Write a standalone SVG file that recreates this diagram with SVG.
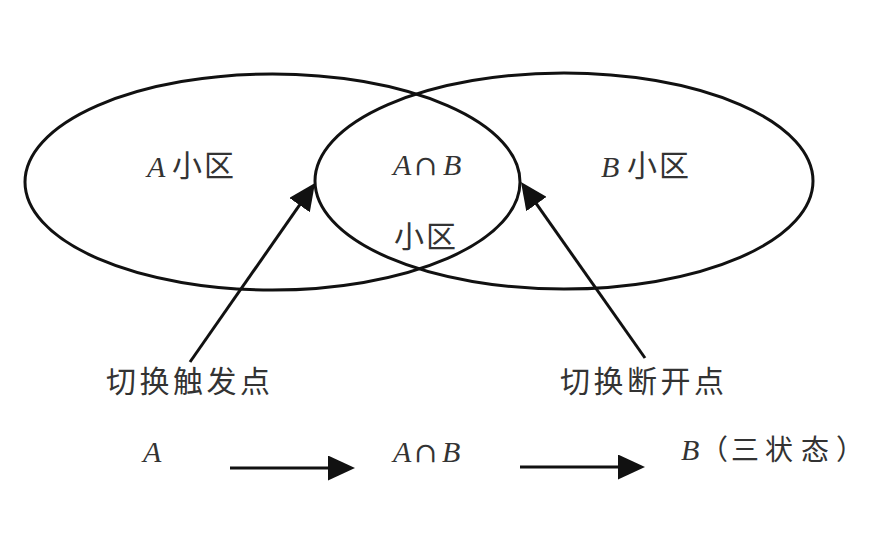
<svg xmlns="http://www.w3.org/2000/svg" width="878" height="548" viewBox="0 0 878 548">
<style>
.ring{fill:none;stroke:#111;stroke-width:3}
.conn{fill:none;stroke:#111;stroke-width:3}
.it{font-family:"Liberation Serif","DejaVu Serif",serif;font-style:italic;font-size:30px;fill:#333}
.up{font-family:"DejaVu Serif","Liberation Serif",serif;font-size:28px;fill:#333}
.cjk{font-family:"Noto Sans CJK SC","Noto Sans CJK TC",sans-serif;font-size:30px;fill:#333}
.cjks{font-family:"Noto Sans CJK SC","Noto Sans CJK TC",sans-serif;font-size:28px;fill:#333}
</style>
<defs>
<marker id="ah" markerUnits="userSpaceOnUse" markerWidth="27" markerHeight="25" refX="20" refY="12.5" orient="auto">
<path d="M0,0 L27,12.5 L0,25 z" fill="#111"/>
</marker>
</defs>
<rect width="878" height="548" fill="#fff"/>
<g id="cell-A">
<ellipse class="ring" cx="272.5" cy="182" rx="247.5" ry="108"/>
<text class="it" x="147" y="177">A</text>
<text class="cjk" x="172 204" y="176">小区</text>
</g>
<g id="cell-B">
<ellipse class="ring" cx="564" cy="181" rx="249" ry="108"/>
<text class="it" x="601" y="177">B</text>
<text class="cjk" x="627 659" y="176">小区</text>
</g>
<g id="cell-AB">
<text x="393" y="175"><tspan class="it">A</tspan><tspan class="up" x="414">∩</tspan><tspan class="it" x="443">B</tspan></text>
<text class="cjk" x="394 426" y="247">小区</text>
</g>
<g id="label-trigger">
<text class="cjk" x="106 139.5 173 206.5 240" y="392">切换触发点</text>
</g>
<g id="label-break">
<text class="cjk" x="560 593.5 627 660.5 694" y="392">切换断开点</text>
</g>
<g id="state-A">
<text class="it" x="143" y="462">A</text>
</g>
<g id="state-AB">
<text x="393" y="462"><tspan class="it">A</tspan><tspan class="up" x="414">∩</tspan><tspan class="it" x="442">B</tspan></text>
</g>
<g id="state-B">
<text class="it" x="681" y="460">B</text>
<text class="cjks" x="700 731 765 801 836" y="460">（三状态）</text>
</g>
<g id="connectors">
<line class="conn" x1="190" y1="362" x2="311" y2="188.7" marker-end="url(#ah)"/>
<line class="conn" x1="645" y1="358" x2="525" y2="187.7" marker-end="url(#ah)"/>
<line class="conn" x1="230" y1="468" x2="348" y2="468" marker-end="url(#ah)"/>
<line class="conn" x1="520" y1="467" x2="638" y2="467" marker-end="url(#ah)"/>
</g>
</svg>
